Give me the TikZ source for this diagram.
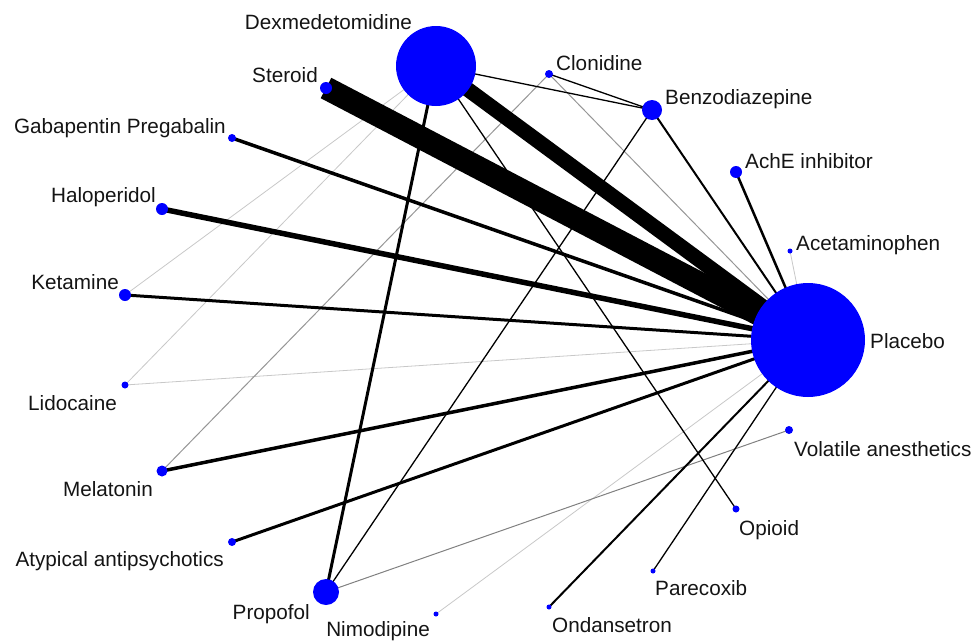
\documentclass[tikz,border=0pt]{standalone}
\usepackage{fontspec}
\setmainfont{Liberation Sans}
\usetikzlibrary{backgrounds}

\definecolor{netblue}{RGB}{0,0,255}
\definecolor{lightedge}{RGB}{200,200,200}
\definecolor{midedge}{RGB}{150,150,150}

\begin{document}
\begin{tikzpicture}[x=1pt,y=-1pt,font=\fontsize{20.7}{24}\selectfont]
	\tikzstyle{drug}=[circle,fill=netblue,draw=none,inner sep=0pt]
	\tikzstyle{lbl}=[inner sep=0pt,text=black!92]
	\tikzstyle{trial}=[draw=black,line cap=butt]
	\tikzstyle{faint}=[draw=lightedge,line width=0.8pt]
	\tikzstyle{grey}=[draw=midedge,line width=1pt]

	\useasboundingbox (0,0) rectangle (977,640);

	% treatments
	\node[drug,minimum size=80pt] (Dexmed) at (436,66) {};
	\node[drug,minimum size=8pt] (Clonidine) at (549,74) {};
	\node[drug,minimum size=20pt] (Benzo) at (652,110) {};
	\node[drug,minimum size=12pt] (AchE) at (736,172) {};
	\node[drug,minimum size=5pt] (Acetaminophen) at (790,251) {};
	\node[drug,minimum size=114pt] (Placebo) at (808,340) {};
	\node[drug,minimum size=8pt] (Volatile) at (789,430) {};
	\node[drug,minimum size=7pt] (Opioid) at (736,509) {};
	\node[drug,minimum size=5pt] (Parecoxib) at (653,571) {};
	\node[drug,minimum size=5pt] (Ondansetron) at (549,607) {};
	\node[drug,minimum size=5pt] (Nimodipine) at (436,614) {};
	\node[drug,minimum size=26pt] (Propofol) at (326,592) {};
	\node[drug,minimum size=8pt] (Atypical) at (232,542) {};
	\node[drug,minimum size=11pt] (Melatonin) at (162,471) {};
	\node[drug,minimum size=7pt] (Lidocaine) at (125,385) {};
	\node[drug,minimum size=12pt] (Ketamine) at (125,295) {};
	\node[drug,minimum size=12pt] (Haloperidol) at (162,209) {};
	\node[drug,minimum size=8pt] (Gabapentin) at (232,138) {};
	\node[drug,minimum size=12pt] (Steroid) at (326,88) {};

	% labels
	\node[lbl,anchor=base east] (lDexmed) at (412,29) {Dexmedetomidine};
	\node[lbl,anchor=base west] (lClonidine) at (556,70) {Clonidine};
	\node[lbl,anchor=base west] (lBenzo) at (665,104) {Benzodiazepine};
	\node[lbl,anchor=base west] (lAchE) at (745,168) {AchE inhibitor};
	\node[lbl,anchor=base west] (lAcetaminophen) at (796,250) {Acetaminophen};
	\node[lbl,anchor=base west] (lPlacebo) at (870,348) {Placebo};
	\node[lbl,anchor=base west] (lVolatile) at (794,456) {Volatile anesthetics};
	\node[lbl,anchor=base west] (lOpioid) at (739,535) {Opioid};
	\node[lbl,anchor=base west] (lParecoxib) at (655,595) {Parecoxib};
	\node[lbl,anchor=base west] (lOndansetron) at (552,632) {Ondansetron};
	\node[lbl,anchor=base east] (lNimodipine) at (430,636) {Nimodipine};
	\node[lbl,anchor=base east] (lPropofol) at (310,619) {Propofol};
	\node[lbl,anchor=base east] (lAtypical) at (224,566) {Atypical antipsychotics};
	\node[lbl,anchor=base east] (lMelatonin) at (153,496) {Melatonin};
	\node[lbl,anchor=base east] (lLidocaine) at (117,410) {Lidocaine};
	\node[lbl,anchor=base east] (lKetamine) at (119,289) {Ketamine};
	\node[lbl,anchor=base east] (lHaloperidol) at (156,202) {Haloperidol};
	\node[lbl,anchor=base east] (lGabapentin) at (226,133) {Gabapentin Pregabalin};
	\node[lbl,anchor=base east] (lSteroid) at (318,82) {Steroid};

	% comparisons
	\begin{pgfonlayer}{background}
	\path (Lidocaine.center) edge[faint] (Placebo.center);
	\path (Lidocaine.center) edge[faint] (Dexmed.center);
	\path (Ketamine.center) edge[faint] (Dexmed.center);
	\path (Nimodipine.center) edge[faint] (Placebo.center);
	\path (Acetaminophen.center) edge[faint] (Placebo.center);
	\path (Clonidine.center) edge[grey] (Placebo.center);
	\path (Melatonin.center) edge[grey] (Clonidine.center);
	\path (Propofol.center) edge[grey,draw=black!50] (Volatile.center);
	\path (Dexmed.center) edge[trial,line width=1.3pt] (Benzo.center);
	\path (Clonidine.center) edge[trial,line width=1.3pt] (Benzo.center);
	\path (Dexmed.center) edge[trial,line width=1.3pt] (Opioid.center);
	\path (Benzo.center) edge[trial,line width=1.3pt] (Propofol.center);
	\path (Parecoxib.center) edge[trial,line width=1.3pt] (Placebo.center);
	\path (Ondansetron.center) edge[trial,line width=2pt] (Placebo.center);
	\path (Benzo.center) edge[trial,line width=2pt] (Placebo.center);
	\path (AchE.center) edge[trial,line width=2.5pt] (Placebo.center);
	\path (Dexmed.center) edge[trial,line width=3pt] (Propofol.center);
	\path (Atypical.center) edge[trial,line width=3pt] (Placebo.center);
	\path (Melatonin.center) edge[trial,line width=3.5pt] (Placebo.center);
	\path (Ketamine.center) edge[trial,line width=3pt] (Placebo.center);
	\path (Gabapentin.center) edge[trial,line width=3.5pt] (Placebo.center);
	\path (Haloperidol.center) edge[trial,line width=5.5pt] (Placebo.center);
	\path (Dexmed.center) edge[trial,line width=15pt] (Placebo.center);
	\path (Steroid.center) edge[trial,line width=23pt] (Placebo.center);
	\end{pgfonlayer}
\end{tikzpicture}
\end{document}
